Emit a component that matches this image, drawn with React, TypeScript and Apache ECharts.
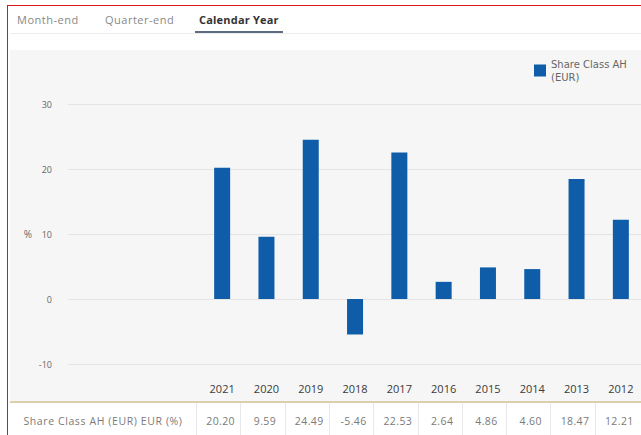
import React, { useEffect, useRef } from "react";
import * as echarts from "echarts";

const years = ["2021", "2020", "2019", "2018", "2017", "2016", "2015", "2014", "2013", "2012"];
const returns = [20.2, 9.59, 24.49, -5.46, 22.53, 2.64, 4.86, 4.6, 18.47, 12.21];
const seriesName = "Share Class AH (EUR)";
const rowLabel = "Share Class AH (EUR) EUR (%)";
const tabs = ["Month-end", "Quarter-end", "Calendar Year"];
const yTicks = { min: -10, max: 30, interval: 10 };

const FONT = "'Open Sans', 'Noto Sans', sans-serif";
const BAR = "#0f5ca8";
const COL_W = 44.3;
const COL_X0 = 200;

export default function App() {
  const ref = useRef<HTMLDivElement>(null);

  useEffect(() => {
    if (!ref.current) return;
    const chart = echarts.init(ref.current, undefined, { renderer: "svg" });
    chart.setOption({
      animation: false,
      backgroundColor: "transparent",
      textStyle: { fontFamily: FONT },
      legend: {
        left: 524,
        top: 1,
        padding: 0,
        itemWidth: 12,
        itemHeight: 12,
        itemGap: 4,
        icon: "rect",
        formatter: (n: string) => n.replace(" (", "\n("),
        textStyle: {
          fontSize: 10,
          color: "#666",
          fontFamily: "'DejaVu Sans', sans-serif",
          lineHeight: 13,
          padding: [13, 0, 0, 0],
        },
        data: [seriesName],
      },
      grid: [
        { left: 58, right: 0, top: 54, height: 260 },
        { left: 190, width: COL_W * years.length, top: 54, height: 260 },
      ],
      xAxis: [
        { type: "category", gridIndex: 0, data: years, show: false },
        {
          type: "category",
          gridIndex: 1,
          data: years,
          axisLine: { show: false },
          axisTick: { show: false },
          axisLabel: { margin: 19, fontSize: 11, color: "#3a3a3a", fontWeight: 500 },
        },
      ],
      yAxis: [
        {
          type: "value",
          gridIndex: 0,
          min: yTicks.min,
          max: yTicks.max,
          interval: yTicks.interval,
          name: "%",
          nameLocation: "middle",
          nameRotate: 0,
          nameGap: 36,
          nameTextStyle: { fontSize: 10, color: "#666" },
          axisLine: { show: false },
          axisTick: { show: false },
          axisLabel: { margin: 16, fontSize: 9, color: "#666" },
          splitLine: { lineStyle: { color: "#e4e4e4", width: 1 } },
        },
        {
          type: "value",
          gridIndex: 1,
          min: yTicks.min,
          max: yTicks.max,
          interval: yTicks.interval,
          show: false,
          splitLine: { show: false },
        },
      ],
      series: [
        {
          name: seriesName,
          type: "bar",
          xAxisIndex: 1,
          yAxisIndex: 1,
          data: returns,
          barWidth: 16,
          itemStyle: { color: BAR },
        },
      ],
    });
    return () => chart.dispose();
  }, []);

  return (
    <div
      style={{
        position: "fixed",
        left: 0,
        top: 0,
        width: 641,
        height: 435,
        overflow: "hidden",
        background: "#fff",
        fontFamily: FONT,
      }}
    >
      <div style={{ position: "absolute", left: 7, top: 5, width: 700, height: 1, background: "#e01818" }} />
      <div style={{ position: "absolute", left: 7, top: 5, width: 1, height: 500, background: "#c81e1e" }} />
      {/* tabs */}
      <div style={{ position: "absolute", left: 10, top: 33, width: 640, height: 1, background: "#ececec" }} />
      {tabs.map((t, i) => {
        const lefts = [17, 105, 199];
        const active = i === tabs.length - 1;
        return (
          <div
            key={t}
            style={{
              position: "absolute",
              left: lefts[i],
              top: 12,
              fontSize: 11,
              color: active ? "#333" : "#888",
              fontWeight: active ? 700 : 400,
              whiteSpace: "nowrap",
              letterSpacing: active ? 0.2 : 0.5,
            }}
          >
            {t}
          </div>
        );
      })}
      <div style={{ position: "absolute", left: 195, top: 31, width: 88, height: 2, background: "#5a6d80" }} />
      {/* chart panel */}
      <div style={{ position: "absolute", left: 10, top: 50, width: 640, height: 352, background: "#f6f6f6" }} />
      <div ref={ref} style={{ position: "absolute", left: 10, top: 50, width: 640, height: 352 }} />
      <div style={{ position: "absolute", left: 10, top: 401, width: 640, height: 2, background: "#dccfae" }} />
      {/* table row */}
      <div
        style={{
          position: "absolute",
          left: 10,
          top: 403,
          width: 186,
          height: 36,
          lineHeight: "36px",
          textAlign: "center",
          fontSize: 10.5,
          letterSpacing: 0.6,
          color: "#7a7a7a",
          whiteSpace: "nowrap",
        }}
      >
        {rowLabel}
      </div>
      {returns.map((v, i) => (
        <div
          key={years[i]}
          style={{
            position: "absolute",
            left: COL_X0 - 4 + i * COL_W,
            top: 403,
            width: COL_W,
            height: 36,
            lineHeight: "36px",
            textAlign: "center",
            fontSize: 10.5,
            letterSpacing: 0.4,
            color: "#7a7a7a",
            borderLeft: "1px solid #e8e8e8",
            boxSizing: "border-box",
            paddingLeft: 4,
          }}
        >
          {v.toFixed(2)}
        </div>
      ))}
    </div>
  );
}
